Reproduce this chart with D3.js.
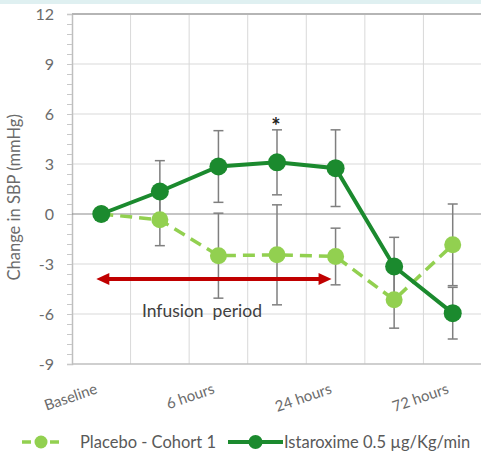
<!DOCTYPE html>
<html>
<head>
<meta charset="utf-8">
<script src="https://cdn.jsdelivr.net/npm/d3@7"></script>
<style>
  body { margin: 0; background: #fff; }
  svg { display: block; font-family: Lato, "Liberation Sans", sans-serif; }
</style>
</head>
<body>
<svg></svg>
<script>
const width = 481;
const height = 452;

// categories (only every other one is labelled in the original)
const timepoints = ['Baseline', '3 hours', '6 hours', '12 hours', '24 hours', '48 hours', '72 hours'];
const shownLabels = ['Baseline', '6 hours', '24 hours', '72 hours'];

const placeboMean = [0, -0.35, -2.5, -2.45, -2.55, -5.15, -1.85];
const placeboErr = [0, 1.55, 2.55, 3.0, 1.7, 1.7, 2.45];
const istaroximeMean = [0, 1.35, 2.85, 3.1, 2.75, -3.15, -5.95];
const istaroximeErr = [0, 1.85, 2.15, 1.95, 2.3, 1.75, 1.55];

const yTicks = [-9, -6, -3, 0, 3, 6, 9, 12];
const starAt = '12 hours';
const infusion = { from: 'Baseline', to: '24 hours', level: -3.9, label: 'Infusion  period' };

const legendItems = [
  { name: 'Placebo - Cohort 1', key: 'placebo' },
  { name: 'Istaroxime 0.5 µg/Kg/min', key: 'istaroxime' }
];

const colors = { placebo: '#92d050', istaroxime: '#1b8a2e' };

const svg = d3.select('svg').attr('width', width).attr('height', height);

svg.append('rect').attr('width', width).attr('height', 4).attr('fill', '#dff0f1');

const x = d3.scaleBand().domain(timepoints).range([72, 482]);
const y = d3.scaleLinear().domain([-9, 12]).range([364, 14]);
const cx = d => x(d) + x.bandwidth() / 2;

// gridlines
svg.append('g').selectAll('line')
    .data(yTicks.filter(t => t !== 0 && t !== -9 && t !== 12))
    .enter().append('line')
    .attr('x1', 72).attr('x2', width)
    .attr('y1', d => y(d)).attr('y2', d => y(d))
    .attr('stroke', '#d9d9d9');

svg.append('g').selectAll('line')
    .data(timepoints.slice(1))
    .enter().append('line')
    .attr('x1', d => x(d)).attr('x2', d => x(d))
    .attr('y1', y(12)).attr('y2', y(-9))
    .attr('stroke', '#d9d9d9');

// y axis with minor ticks
const yAxis = d3.axisLeft(y)
    .tickValues(d3.range(-9, 12.01, 0.6))
    .tickSize(5)
    .tickFormat('');
svg.append('g').attr('transform', 'translate(72,0)').call(yAxis)
    .call(g => g.select('.domain').attr('stroke', '#bfbfbf').attr('stroke-width', 1.5))
    .call(g => g.selectAll('.tick line').attr('stroke', '#c8c8c8'));

svg.append('g').selectAll('text')
    .data(yTicks)
    .enter().append('text')
    .attr('x', 54).attr('y', d => y(d))
    .attr('dy', '0.35em')
    .attr('text-anchor', 'end')
    .attr('fill', '#6b6b6b')
    .style('font-size', '16px')
    .text(d => d);

// frame lines
svg.append('line').attr('x1', 72).attr('x2', width)
    .attr('y1', y(12)).attr('y2', y(12))
    .attr('stroke', '#b5b5b5').attr('stroke-width', 2);
svg.append('line').attr('x1', 72).attr('x2', width)
    .attr('y1', y(-9)).attr('y2', y(-9))
    .attr('stroke', '#bfbfbf').attr('stroke-width', 1.5);
svg.append('line').attr('x1', 72).attr('x2', width)
    .attr('y1', y(0)).attr('y2', y(0))
    .attr('stroke', '#8c8c8c').attr('stroke-width', 1.2);

svg.append('text')
    .attr('transform', `translate(20,${y(1.0)}) rotate(-90)`)
    .attr('text-anchor', 'middle')
    .attr('fill', '#6b6b6b')
    .style('font-size', '16.5px')
    .text('Change in SBP (mmHg)');

// x labels
svg.append('g').selectAll('text')
    .data(shownLabels)
    .enter().append('text')
    .attr('transform', d => `translate(${cx(d) - 3},393) rotate(-19)`)
    .attr('text-anchor', 'end')
    .attr('fill', '#6b6b6b')
    .style('font-size', '15px')
    .text(d => d);

// error bars
function errorBars(means, errs) {
  const rows = timepoints.map((t, i) => ({ t, m: means[i], e: errs[i] })).filter(d => d.e > 0);
  const g = svg.append('g').attr('stroke', '#7f7f7f').attr('stroke-width', 1.5);
  g.selectAll('.v').data(rows).enter().append('line')
      .attr('x1', d => cx(d.t)).attr('x2', d => cx(d.t))
      .attr('y1', d => y(d.m + d.e)).attr('y2', d => y(d.m - d.e));
  [1, -1].forEach(s => {
    g.selectAll('.c' + s).data(rows).enter().append('line')
        .attr('x1', d => cx(d.t) - 5).attr('x2', d => cx(d.t) + 5)
        .attr('y1', d => y(d.m + s * d.e)).attr('y2', d => y(d.m + s * d.e));
  });
}
errorBars(placeboMean, placeboErr);
errorBars(istaroximeMean, istaroximeErr);

const line = d3.line().x((d, i) => cx(timepoints[i])).y(d => y(d));

svg.append('path').datum(placeboMean)
    .attr('d', line).attr('fill', 'none')
    .attr('stroke', colors.placebo).attr('stroke-width', 3.5)
    .attr('stroke-dasharray', '12,7');
svg.append('path').datum(istaroximeMean)
    .attr('d', line).attr('fill', 'none')
    .attr('stroke', colors.istaroxime).attr('stroke-width', 4);

svg.append('g').selectAll('circle').data(placeboMean)
    .enter().append('circle')
    .attr('cx', (d, i) => cx(timepoints[i])).attr('cy', d => y(d))
    .attr('r', 8.5).attr('fill', colors.placebo);
svg.append('g').selectAll('circle').data(istaroximeMean)
    .enter().append('circle')
    .attr('cx', (d, i) => cx(timepoints[i])).attr('cy', d => y(d))
    .attr('r', 9).attr('fill', colors.istaroxime);

// significance star
const si = timepoints.indexOf(starAt);
svg.append('text')
    .attr('x', cx(starAt) - 1).attr('y', y(istaroximeMean[si] + istaroximeErr[si]) + 4)
    .attr('text-anchor', 'middle')
    .attr('fill', '#222')
    .style('font-size', '22px').style('font-weight', 'bold')
    .text('*');

// infusion arrow
const ax1 = cx(infusion.from) - 5, ax2 = cx(infusion.to) - 4, ay = y(infusion.level);
const arrowColor = '#c00000';
svg.append('line').attr('x1', ax1 + 8).attr('x2', ax2 - 8)
    .attr('y1', ay).attr('y2', ay)
    .attr('stroke', arrowColor).attr('stroke-width', 4);
svg.append('path')
    .attr('d', `M${ax1},${ay} L${ax1 + 13},${ay - 6} L${ax1 + 13},${ay + 6} Z`)
    .attr('fill', arrowColor);
svg.append('path')
    .attr('d', `M${ax2},${ay} L${ax2 - 13},${ay - 6} L${ax2 - 13},${ay + 6} Z`)
    .attr('fill', arrowColor);
svg.append('text')
    .attr('x', (ax1 + ax2) / 2 - 12).attr('y', ay + 38)
    .attr('text-anchor', 'middle')
    .attr('fill', '#404040')
    .style('font-size', '17.5px')
    .style('white-space', 'pre')
    .text(infusion.label);

// legend
const lg = svg.append('g').attr('transform', 'translate(0,442)');
const items = [
  { item: legendItems[0], x1: 22, x2: 60, tx: 80, dash: '9,5', w: 3.5, r: 6.5 },
  { item: legendItems[1], x1: 228, x2: 283, tx: 284, dash: null, w: 4, r: 7 }
];
items.forEach(o => {
  lg.append('line').attr('x1', o.x1).attr('x2', o.x2)
      .attr('stroke', colors[o.item.key]).attr('stroke-width', o.w)
      .attr('stroke-dasharray', o.dash);
  lg.append('circle').attr('cx', (o.x1 + o.x2) / 2).attr('r', o.r)
      .attr('fill', colors[o.item.key]);
  lg.append('text').attr('x', o.tx).attr('dy', '0.35em')
      .attr('fill', '#595959')
      .style('font-size', '16.5px')
      .text(o.item.name);
});
</script>
</body>
</html>
